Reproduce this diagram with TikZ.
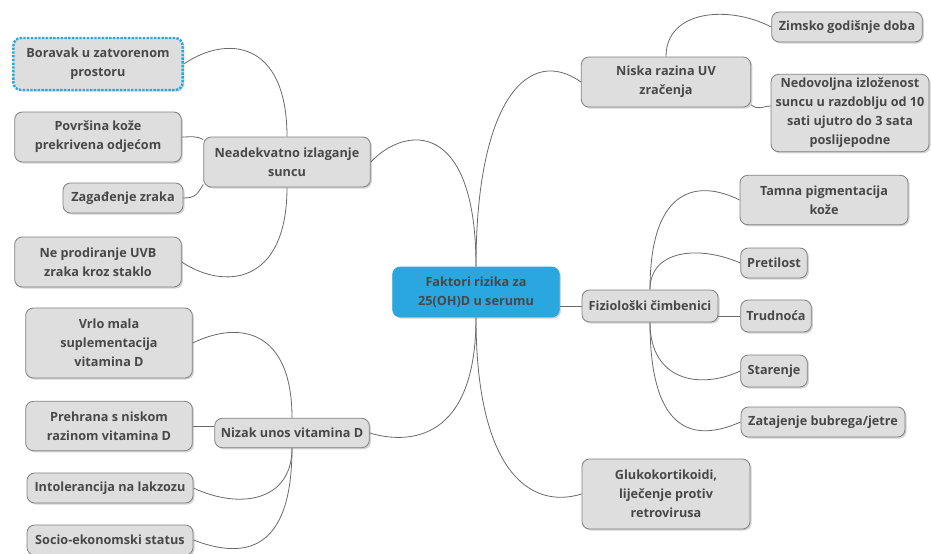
\documentclass[tikz,border=0pt]{standalone}
\usepackage{fontspec}
\setsansfont{Open Sans}
\usepackage{tikz}
\usetikzlibrary{backgrounds,shadows}
\definecolor{mmBlue}{RGB}{42,167,223}
\definecolor{mmFill}{RGB}{222,222,222}
\definecolor{mmLine}{RGB}{128,128,128}
\definecolor{mmText}{RGB}{72,72,72}
\definecolor{mmLink}{RGB}{105,105,105}
\tikzset{
    base/.style={font=\sffamily\bfseries\fontsize{9.5}{14.25}\selectfont, align=center, text=mmText},
    factor/.style={base, rectangle, rounded corners=2mm, draw=mmLine, fill=mmFill,
                   line width=0.6pt, inner xsep=2pt, inner ysep=2pt,
                   drop shadow={opacity=0.35, shadow xshift=1.2pt, shadow yshift=-1.2pt}},
    core/.style={factor, fill=mmBlue, draw=mmBlue},
    marked/.style={factor, draw=mmBlue, line width=1.8pt, densely dotted},
    link/.style={draw=mmLink, line width=0.6pt}
}

\begin{document}
\begin{tikzpicture}[x=0.75pt, y=-0.75pt]
  \useasboundingbox (0,0) rectangle (931,553);

  % Central topic
  \node[core, minimum width=125pt, minimum height=37.5pt] (faktori) at (476,292) {Faktori rizika za\\25(OH)D u serumu};

  % Left branches
  \node[factor, minimum width=125pt, minimum height=37.5pt] (neadekv) at (287,162) {Neadekvatno izlaganje\\suncu};
  \node[marked, minimum width=127pt, minimum height=39pt] (boravak) at (98,64) {Boravak u zatvorenom\\prostoru};
  \node[factor, minimum width=125pt, minimum height=37.5pt] (povrsina) at (98,137) {Površina kože\\prekrivena odjećom};
  \node[factor, minimum width=90pt, minimum height=22.5pt] (zagad) at (123,198) {Zagađenje zraka};
  \node[factor, minimum width=125pt, minimum height=37.5pt] (prodir) at (98,262) {Ne prodiranje UVB\\zraka kroz staklo};

  \node[factor, minimum width=116pt, minimum height=22pt] (nizak) at (292,433) {Nizak unos vitamina D};
  \node[factor, minimum width=125pt, minimum height=52.5pt] (vrlo) at (109,343) {Vrlo mala\\suplementacija\\vitamina D};
  \node[factor, minimum width=125pt, minimum height=37pt] (prehrana) at (109,426) {Prehrana s niskom\\razinom vitamina D};
  \node[factor, minimum width=124.5pt, minimum height=22.5pt] (intol) at (110,488) {Intolerancija na lakzozu};
  \node[factor, minimum width=124.5pt, minimum height=22.5pt] (socio) at (110,540) {Socio-ekonomski status};

  % Right branches
  \node[factor, minimum width=127pt, minimum height=37.5pt] (niska) at (666,82) {Niska razina UV\\zračenja};
  \node[factor, minimum width=113pt, minimum height=22.5pt] (zimsko) at (847,27) {Zimsko godišnje doba};
  \node[factor, minimum width=118.5pt, minimum height=58pt] (nedov) at (850,113) {Nedovoljna izloženost\\suncu u razdoblju od 10\\sati ujutro do 3 sata\\poslijepodne};

  \node[factor, minimum width=102pt, minimum height=24pt] (fizio) at (650,306) {Fiziološki čimbenici};
  \node[factor, minimum width=126pt, minimum height=37pt] (tamna) at (824,200) {Tamna pigmentacija\\kože};
  \node[factor, minimum width=50pt, minimum height=22.5pt] (pretil) at (774,263) {Pretilost};
  \node[factor, minimum width=53pt, minimum height=24pt] (trud) at (776,316) {Trudnoća};
  \node[factor, minimum width=50pt, minimum height=24pt] (staren) at (774,371) {Starenje};
  \node[factor, minimum width=123pt, minimum height=22.5pt] (zatajen) at (823,422) {Zatajenje bubrega/jetre};

  \node[factor, minimum width=126pt, minimum height=52.5pt] (gluko) at (666,494) {Glukokortikoidi,\\liječenje protiv\\retrovirusa};

  % Connectors
  \begin{scope}[on background layer]
    \draw[link] (faktori.north) .. controls +(0,-147) and +(35,-37) .. (neadekv.east);
    \draw[link] (faktori.north) .. controls +(0,-167) and +(-52,-37) .. (niska.west);
    \draw[link] (faktori.south) .. controls +(0,123) and +(40,12) .. (nizak.east);
    \draw[link] (faktori.south) .. controls +(0,153) and +(-52,16) .. (gluko.west);
    \draw[link] (faktori.east |- fizio.west) -- (fizio.west);

    \draw[link] (neadekv.north) .. controls +(0,-97) and +(42,-29) .. (boravak.east);
    \draw[link] (neadekv.165) .. controls +(-8,-4) and +(10,0) .. (povrsina.east);
    \draw[link] (neadekv.195) .. controls +(-6,10) and +(12,0) .. (zagad.east);
    \draw[link] (neadekv.south) .. controls +(0,98) and +(42,28) .. (prodir.east);

    \draw[link] (nizak.north) .. controls +(0,-88) and +(47,-23) .. (vrlo.east);
    \draw[link] (nizak.west |- prehrana.east) -- (prehrana.east);
    \draw[link] (nizak.south) .. controls +(0,53) and +(47,22) .. (intol.east);
    \draw[link] (nizak.south) .. controls +(0,103) and +(52,20) .. (socio.east);

    \draw[link] (niska.north) .. controls +(0,-47) and +(-42,-22) .. (zimsko.west);
    \draw[link] (niska.-15) .. controls +(8,6) and +(-8,0) .. (nedov.175);

    \draw[link] (fizio.north) .. controls +(0,-105) and +(-40,-20) .. (tamna.west);
    \draw[link] (fizio.north) .. controls +(0,-40) and +(-41,-18) .. (pretil.west);
    \draw[link] (fizio.east |- trud.west) -- (trud.west);
    \draw[link] (fizio.south) .. controls +(0,58) and +(-41,19) .. (staren.west);
    \draw[link] (fizio.south) .. controls +(0,118) and +(-41,18) .. (zatajen.west);
  \end{scope}
\end{tikzpicture}
\end{document}
